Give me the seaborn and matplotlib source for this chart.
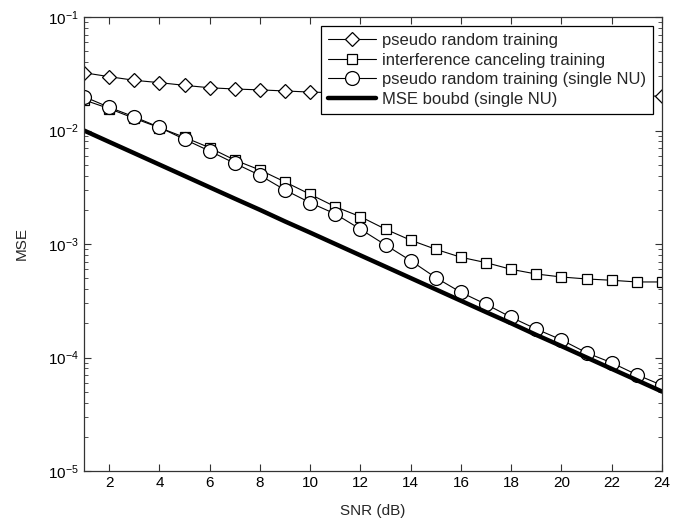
import matplotlib
matplotlib.use("Agg")
import matplotlib.pyplot as plt
import seaborn as sns
import numpy as np
from matplotlib.ticker import LogLocator, FixedLocator, NullFormatter

snr = list(range(1, 25))
pseudo_random = [0.0323, 0.0298, 0.0277, 0.0264, 0.0250, 0.0238, 0.0232, 0.0228,
                 0.0223, 0.0218, 0.0215, 0.0213, 0.0211, 0.0210, 0.0208, 0.0207,
                 0.0206, 0.0205, 0.0204, 0.0203, 0.0202, 0.0202, 0.0201, 0.0201]
interference_cancel = [0.0186, 0.0156, 0.0128, 0.0106, 0.00871, 0.00705, 0.00549, 0.00449,
                       0.00352, 0.00274, 0.00213, 0.00174, 0.00135, 0.00108, 0.000898, 0.000764,
                       0.000685, 0.000598, 0.000544, 0.000512, 0.000492, 0.000479, 0.000463, 0.000463]
pseudo_single = [0.0199, 0.0160, 0.0132, 0.01066, 0.00836, 0.00659, 0.00514, 0.00403,
                 0.00299, 0.00231, 0.00184, 0.00135, 0.000980, 0.000713, 0.000505, 0.000375,
                 0.000294, 0.000226, 0.000178, 0.000143, 0.000110, 0.0000899, 0.0000705, 0.0000569]
mse_bound = [1.00e-2, 7.94e-3, 6.31e-3, 5.01e-3, 3.98e-3, 3.16e-3, 2.51e-3, 2.00e-3,
             1.58e-3, 1.26e-3, 1.00e-3, 7.94e-4, 6.31e-4, 5.01e-4, 3.98e-4, 3.16e-4,
             2.51e-4, 2.00e-4, 1.58e-4, 1.26e-4, 1.00e-4, 7.94e-5, 6.31e-5, 5.01e-5]
labels = ["pseudo random training", "interference canceling training",
          "pseudo random training (single NU)", "MSE boubd (single NU)"]
xticks = list(range(2, 25, 2))

sns.set_theme(style="ticks")
plt.rcParams['font.family'] = ['Liberation Sans', 'DejaVu Sans']
plt.rcParams['mathtext.fontset'] = 'custom'
plt.rcParams['mathtext.rm'] = 'Liberation Sans'
plt.rcParams['mathtext.it'] = 'Liberation Sans'

fig = plt.figure(figsize=(6.85, 5.25), dpi=100)
ax = fig.add_axes([84/685, 1-471/525, (662-84)/685, (471-17)/525])

common = dict(color="black", linewidth=0.8, markerfacecolor="white",
              markeredgecolor="black", markeredgewidth=0.9)
sns.lineplot(x=snr, y=pseudo_random, marker="D", markersize=6.8, label=labels[0], ax=ax, **common)
sns.lineplot(x=snr, y=interference_cancel, marker="s", markersize=7.5, label=labels[1], ax=ax, **common)
sns.lineplot(x=snr, y=pseudo_single, marker="o", markersize=10, label=labels[2], ax=ax, **common)
sns.lineplot(x=snr, y=mse_bound, color="black", linewidth=3.2, label=labels[3], ax=ax)

ax.set_yscale("log")
ax.set_xlim(1, 24)
ax.set_ylim(1e-5, 1e-1)
ax.xaxis.set_major_locator(FixedLocator(xticks))
ax.yaxis.set_major_locator(LogLocator(base=10, numticks=10))
ax.yaxis.set_minor_locator(LogLocator(base=10, subs=np.arange(2, 10), numticks=10))
ax.yaxis.set_minor_formatter(NullFormatter())

for s in ax.spines.values():
    s.set_visible(True)
    s.set_color("#333333")
    s.set_linewidth(0.9)
ax.tick_params(which="both", direction="in", top=True, right=True, colors="#333333",
               labelcolor="black", labelsize=11)
ax.tick_params(which="major", length=5, width=0.8)
ax.tick_params(which="minor", length=3, width=0.6)

ax.set_xlabel("SNR (dB)", fontsize=11, labelpad=10)
ax.set_ylabel("MSE", fontsize=11, labelpad=14)

leg = ax.legend(loc="upper right", fontsize=12, frameon=True, fancybox=False,
                framealpha=1, edgecolor="black", handlelength=2.9, handletextpad=0.35,
                borderpad=0.4, labelspacing=0.28, borderaxespad=0.55)
leg.get_frame().set_linewidth(0.9)
leg.set_zorder(10)

fig.savefig("out.png", dpi=100)
